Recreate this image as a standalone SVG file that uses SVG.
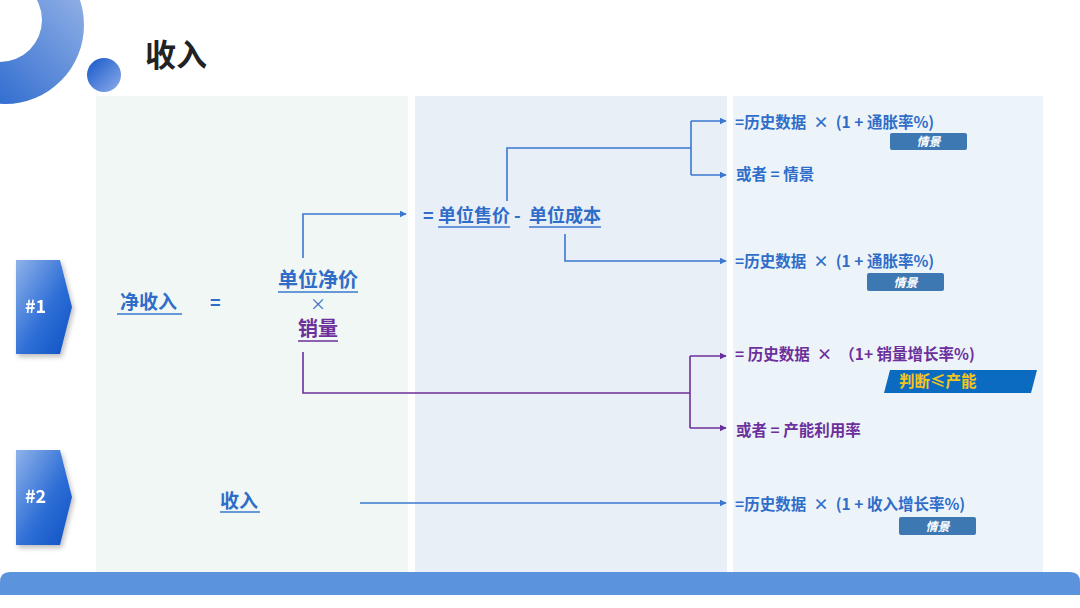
<svg xmlns="http://www.w3.org/2000/svg" width="1080" height="608" viewBox="0 0 1080 608">
<defs>
<linearGradient id="ringG" x1="0" y1="1" x2="1" y2="0">
<stop offset="0" stop-color="#0f55c8"/><stop offset="1" stop-color="#a9c1ea"/>
</linearGradient>
<linearGradient id="dotG" x1="0" y1="0" x2="1" y2="1">
<stop offset="0" stop-color="#1457c9"/><stop offset="1" stop-color="#8eacea"/>
</linearGradient>
<linearGradient id="badgeG" x1="0" y1="0" x2="1" y2="1">
<stop offset="0" stop-color="#8fb2ea"/><stop offset="0.55" stop-color="#2f6fd6"/><stop offset="1" stop-color="#0e50c4"/>
</linearGradient>
<filter id="sh" x="-30%" y="-30%" width="160%" height="160%">
<feDropShadow dx="2" dy="3" stdDeviation="2.5" flood-color="#000" flood-opacity="0.25"/>
</filter>
<marker id="ab" viewBox="0 0 10 10" refX="9" refY="5" markerWidth="7" markerHeight="7" markerUnits="userSpaceOnUse" orient="auto">
<path d="M0,0 L10,5 L0,10 z" fill="#3a78cf"/>
</marker>
<marker id="ap" viewBox="0 0 10 10" refX="9" refY="5" markerWidth="7" markerHeight="7" markerUnits="userSpaceOnUse" orient="auto">
<path d="M0,0 L10,5 L0,10 z" fill="#6c2f9c"/>
</marker>
<style>
text{font-family:"Noto Sans CJK SC","Noto Sans",sans-serif;font-weight:bold}
.b{fill:#2f6dc9}
.p{fill:#6c2f9c}
.lb{stroke:#3a78cf;stroke-width:1.6;fill:none}
.lp{stroke:#6c2f9c;stroke-width:1.6;fill:none}
.ub{stroke:#3a78cf;stroke-width:1.5}
.up{stroke:#6c2f9c;stroke-width:1.5}
.r{font-size:15.5px;white-space:pre}
.tag{fill:#3d78b2}
.tagt{fill:#ffffff;font-size:12px;font-style:italic}
</style>
</defs>
<rect width="1080" height="608" fill="#ffffff"/>
<g id="decor">
<path fill-rule="evenodd" fill="url(#ringG)" d="M -74,25 A 79,79 0 1 0 84,25 A 79,79 0 1 0 -74,25 Z M -42,20 A 42,42 0 1 1 42,20 A 42,42 0 1 1 -42,20 Z"/>
<circle cx="104" cy="75" r="17" fill="url(#dotG)"/>
</g>
<g id="title"><text x="145" y="66" font-size="31" fill="#222">收入</text></g>
<g id="panels">
<rect x="96" y="96" width="312" height="478" fill="#f0f7f4"/>
<rect x="415" y="96" width="312" height="478" fill="#e9eff7"/>
<rect x="733" y="96" width="310" height="478" fill="#edf4f9"/>
</g>
<g id="footer"><path d="M0,582 Q0,572 10,572 L1070,572 Q1080,572 1080,582 L1080,595 L0,595 Z" fill="#5b94dc"/></g>
<g id="badge1" filter="url(#sh)">
<path d="M16,260 L60,260 L72,307 L60,354 L16,354 Z" fill="url(#badgeG)"/>
<text x="25" y="313" font-size="18" fill="#fff">#1</text>
</g>
<g id="badge2" filter="url(#sh)">
<path d="M16,450 L60,450 L72,497 L60,545 L16,545 Z" fill="url(#badgeG)"/>
<text x="25" y="503" font-size="18" fill="#fff">#2</text>
</g>
<g id="netincome">
<text x="120" y="309" font-size="19" class="b">净收入</text>
<line x1="117" y1="314" x2="182" y2="314" class="ub"/>
<text x="210" y="309" font-size="18" class="b">=</text>
</g>
<g id="unitnet">
<text x="278" y="287" font-size="20" class="b">单位净价</text>
<line x1="278" y1="292" x2="358" y2="292" class="ub"/>
<text x="318" y="310" font-size="16" class="b" text-anchor="middle" style="font-weight:normal">×</text>
<text x="298" y="336" font-size="20" class="p">销量</text>
<line x1="298" y1="341" x2="338" y2="341" class="up"/>
</g>
<g id="price">
<text x="423" y="222" font-size="18" class="b">=</text>
<text x="438" y="222" font-size="18" class="b">单位售价</text>
<line x1="438" y1="227" x2="510" y2="227" class="ub"/>
<text x="514" y="222" font-size="18" class="b">-</text>
<text x="529" y="222" font-size="18" class="b">单位成本</text>
<line x1="529" y1="227" x2="601" y2="227" class="ub"/>
</g>
<g id="r1">
<text x="735" y="128" class="r b">=历史数据  ×  (1 + 通胀率%)</text>
<rect x="890" y="133" width="77" height="17" rx="2" class="tag"/>
<text x="928.5" y="146" class="tagt" text-anchor="middle">情景</text>
</g>
<g id="r2"><text x="736" y="180" class="r b">或者 = 情景</text></g>
<g id="r3">
<text x="735" y="267" class="r b">=历史数据  ×  (1 + 通胀率%)</text>
<rect x="867" y="273" width="77" height="18" rx="2" class="tag"/>
<text x="905.5" y="286.5" class="tagt" text-anchor="middle">情景</text>
</g>
<g id="r4">
<text x="735" y="360" class="r p">= 历史数据  ×  （1+ 销量增长率%)</text>
<path d="M890,370 L1037,370 L1031,393 L884,393 Z" fill="#0a6bc0"/>
<text x="899" y="387" font-size="15.5" fill="#f3c61b">判断≤产能</text>
</g>
<g id="r5"><text x="736" y="436" class="r p">或者 = 产能利用率</text></g>
<g id="income2">
<text x="220" y="508" font-size="19" class="b">收入</text>
<line x1="220" y1="512" x2="260" y2="512" class="ub"/>
</g>
<g id="r6">
<text x="735" y="510" class="r b">=历史数据  ×  (1 + 收入增长率%)</text>
<rect x="899" y="517" width="77" height="18" rx="2" class="tag"/>
<text x="937.5" y="530.5" class="tagt" text-anchor="middle">情景</text>
</g>
<g id="connectors">
<polyline points="303,258 303,214 406,214" class="lb" marker-end="url(#ab)"/>
<polyline points="507,201 507,148 691,148" class="lb"/>
<polyline points="691,121 691,175" class="lb"/>
<polyline points="691,121 726,121" class="lb" marker-end="url(#ab)"/>
<polyline points="691,175 726,175" class="lb" marker-end="url(#ab)"/>
<polyline points="565,234 565,261 726,261" class="lb" marker-end="url(#ab)"/>
<polyline points="303,352 303,393 690,393" class="lp"/>
<polyline points="690,356 690,428" class="lp"/>
<polyline points="690,356 726,356" class="lp" marker-end="url(#ap)"/>
<polyline points="690,428 726,428" class="lp" marker-end="url(#ap)"/>
<polyline points="360,503 726,503" class="lb" marker-end="url(#ab)"/>
</g>
</svg>
